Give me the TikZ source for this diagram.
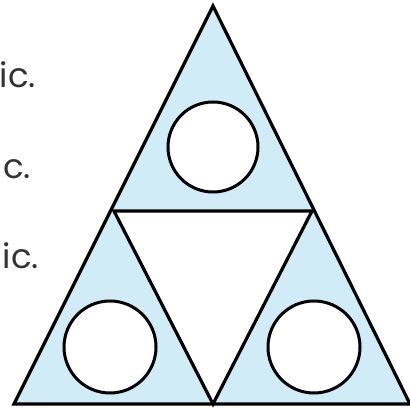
\documentclass[tikz,border=0pt]{standalone}
\usepackage{fontspec}
\setmainfont{Poppins}
\definecolor{paleblue}{HTML}{D2ECF7}
\definecolor{txtgray}{HTML}{333333}
\begin{document}
\begin{tikzpicture}[x=1pt,y=1pt,
  edge/.style={draw=black, line width=3.2pt, line join=miter},
  hole/.style={draw=black, line width=3pt, fill=white},
  lbl/.style={anchor=base east, inner sep=0pt, text=txtgray, font=\fontsize{34}{36}\selectfont}]
\useasboundingbox (0,0) rectangle (410,408);
\coordinate (A) at (213,402);
\coordinate (L) at (114,197);
\coordinate (R) at (312,197);
\coordinate (BL) at (14,4);
\coordinate (BM) at (213,4);
\coordinate (BR) at (410,4);
\fill[paleblue] (A) -- (BL) -- (BR) -- cycle;
\fill[white] (L) -- (R) -- (BM) -- cycle;
\draw[edge] (A) -- (BL) -- (BR) -- cycle;
\draw[edge] (L) -- (R) -- (BM) -- cycle;
\draw[hole] (213,261) circle (45);
\draw[hole] (110,61) circle (46);
\draw[hole] (314,61) circle (46);
\node[lbl] (t1) at (36,320) {ic.};
\node[lbl] (t2) at (31,230) {c.};
\node[lbl] (t3) at (39,140) {ic.};
\end{tikzpicture}
\end{document}
